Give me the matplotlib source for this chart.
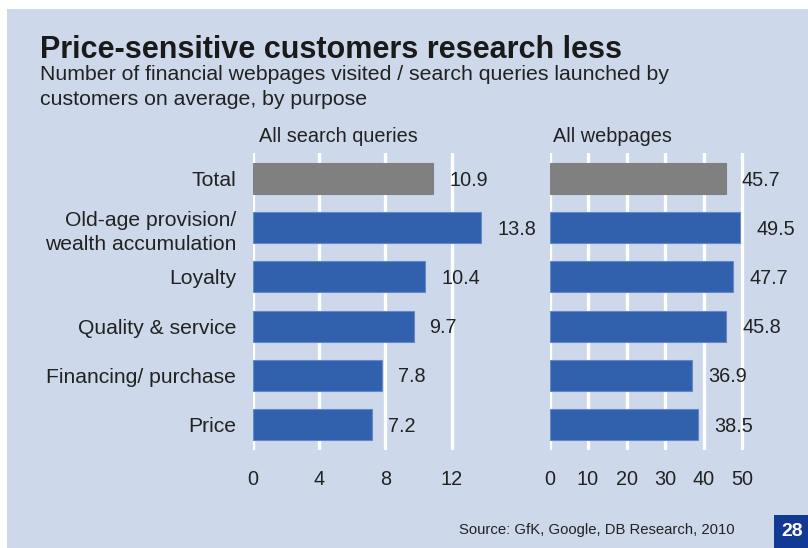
import matplotlib
matplotlib.use("Agg")
import matplotlib.pyplot as plt
from matplotlib.patches import Rectangle
from matplotlib import font_manager

categories = ["Total", "Old-age provision/\nwealth accumulation", "Loyalty",
              "Quality & service", "Financing/ purchase", "Price"]
search_queries = [10.9, 13.8, 10.4, 9.7, 7.8, 7.2]
webpages = [45.7, 49.5, 47.7, 45.8, 36.9, 38.5]
search_ticks = [0, 4, 8, 12]
web_ticks = [0, 10, 20, 30, 40, 50]

BG = "#CDD8EA"
BLUE = "#3161AD"
BLUE_EDGE = "#6488C8"
GREY = "#808080"
TEXT = "#222222"

installed = {f.name for f in font_manager.fontManager.ttflist}
BASE = "Liberation Sans" if "Liberation Sans" in installed else "DejaVu Sans"
plt.rcParams["font.family"] = [BASE, "DejaVu Sans"]

W, H = 808, 548
fig = plt.figure(figsize=(W / 100, H / 100), dpi=100)
fig.patch.set_facecolor("white")

# light-blue panel behind everything
fig.patches.append(Rectangle((7 / W, 0), 1 - 7 / W, 1 - 9 / H,
                             transform=fig.transFigure, facecolor=BG,
                             edgecolor="none", zorder=-5))


def px_axes(x0, x1, y_top, y_bot):
    ax = fig.add_axes([x0 / W, 1 - y_bot / H, (x1 - x0) / W, (y_bot - y_top) / H])
    ax.set_zorder(3)
    return ax


def draw_panel(ax, values, ticks, xmax, title, title_x, show_labels):
    n = len(values)
    colors = [GREY] + [BLUE] * (n - 1)
    edges = [GREY] + [BLUE_EDGE] * (n - 1)
    ax.patch.set_visible(False)
    ax.set_xlim(0, xmax)
    ax.set_ylim(n - 0.48, -0.52)
    for t in ticks:
        ax.axvline(t, color="white", lw=2.4, zorder=1)
    ax.barh(range(n), values, height=0.63, color=colors, edgecolor=edges,
            linewidth=0.8, zorder=2)
    for i, v in enumerate(values):
        ax.annotate(f"{v:.1f}", (v, i), xytext=(11.5, -1.2), textcoords="offset points",
                    ha="left", va="center", fontsize=14.3, color=TEXT)
    for s in ax.spines.values():
        s.set_visible(False)
    ax.set_xticks(ticks)
    ax.set_xticklabels([str(t) for t in ticks], fontsize=14.3, color=TEXT)
    ax.tick_params(axis="x", length=0, pad=14.5)
    ax.set_yticks(range(n))
    if show_labels:
        ax.set_yticklabels(categories, fontsize=15.2, color=TEXT, linespacing=1.35)
        ax.tick_params(axis="y", length=0, pad=12)
    else:
        ax.set_yticklabels([])
        ax.tick_params(axis="y", length=0)
    fig.text(title_x / W, 1 - 136 / H, title, fontsize=14.3, color=TEXT,
             ha="left", va="center")


ax1 = px_axes(253, 253 + 16 * 16.55, 153, 450)
draw_panel(ax1, search_queries, search_ticks, 16, "All search queries", 259, True)

ax2 = px_axes(549.5, 549.5 + 60 * 3.855, 153, 450)
draw_panel(ax2, webpages, web_ticks, 60, "All webpages", 553, False)

fig.text(40 / W, 1 - 57.5 / H, "Price-sensitive customers research less",
         fontsize=22, fontweight="bold", color="#1a1a1a", ha="left", va="baseline")
fig.text(40 / W, 1 - 74.5 / H, "Number of financial webpages visited / search queries launched by",
         fontsize=15.3, color=TEXT, ha="left", va="center")
fig.text(40 / W, 1 - 99.5 / H, "customers on average, by purpose",
         fontsize=15.3, color=TEXT, ha="left", va="center")

fig.text(735 / W, 1 - 530 / H, "Source: GfK, Google, DB Research, 2010",
         fontsize=10.7, color=TEXT, ha="right", va="center")

fig.patches.append(Rectangle((774 / W, 0), (W - 774) / W, 33 / H,
                             transform=fig.transFigure, facecolor="#123A94",
                             edgecolor="none", zorder=1))
fig.text(792 / W, 1 - 532 / H, "28", fontsize=14, fontweight="bold",
         color="white", ha="center", va="center")

fig.savefig("out.png", dpi=100, facecolor=fig.get_facecolor())
